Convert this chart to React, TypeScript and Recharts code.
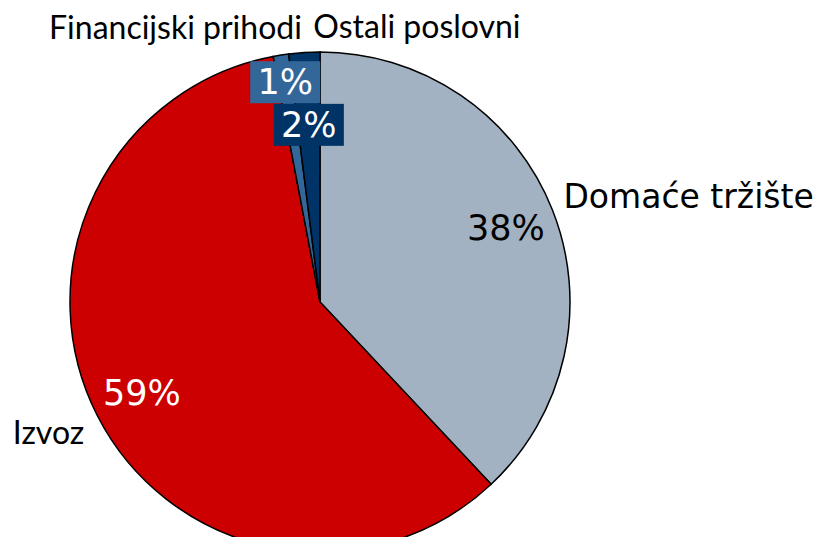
import { PieChart, Pie, Cell } from "recharts";

// share of revenue by source (%)
const categories = ["Domaće tržište", "Izvoz", "Financijski prihodi", "Ostali poslovni"];
const shares = [38, 59, 1, 2];

const colors = ["#A3B2C2", "#CC0000", "#336699", "#003366"];
const pctColors = ["#000000", "#FFFFFF", "#FFFFFF", "#FFFFFF"];
const pctBoxes = [false, false, true, true];
const pctRadius = [0.8, 0.8, 0.89, 0.71];
const nameAnchor = ["start", "end", "end", "start"];
const nameDx = [11, -13, 21, 9];
const nameDy = [-13, 16, -29, -27];
const nameFont = ["DejaVu Sans", "Lato", "Lato", "Lato"];
const nameSize = [33, 32, 32, 32];

const data = categories.map((name, i) => ({ name, value: shares[i] }));

const RADIAN = Math.PI / 180;

// eslint-disable-next-line @typescript-eslint/no-explicit-any
function SliceLabel(props: any) {
  const { cx, cy, midAngle, outerRadius, index, value, name } = props;
  const cos = Math.cos(-midAngle * RADIAN);
  const sin = Math.sin(-midAngle * RADIAN);
  const r = outerRadius * pctRadius[index];
  const px = cx + r * cos;
  const py = cy + r * sin;
  const ex = cx + outerRadius * cos;
  const ey = cy + outerRadius * sin;
  return (
    <g>
      {pctBoxes[index] && (
        <rect x={px - 35} y={py - 21} width={70} height={42} fill={colors[index]} />
      )}
      <text
        x={px}
        y={py}
        fill={pctColors[index]}
        textAnchor="middle"
        dominantBaseline="central"
        fontFamily="DejaVu Sans"
        fontSize={35}
      >
        {value}%
      </text>
      <text
        x={ex + nameDx[index]}
        y={ey + nameDy[index]}
        fill="#000"
        textAnchor={nameAnchor[index]}
        dominantBaseline="central"
        fontFamily={nameFont[index]}
        fontSize={nameSize[index]}
      >
        {name}
      </text>
    </g>
  );
}

export default function App() {
  return (
    <div style={{ margin: -8, width: 828, height: 545, overflow: "hidden", background: "#fff" }}>
      <PieChart width={828} height={545} margin={{ top: 0, right: 0, bottom: 0, left: 0 }}>
        <Pie
          data={data}
          dataKey="value"
          nameKey="name"
          cx={320}
          cy={302}
          outerRadius={250}
          startAngle={90}
          endAngle={-270}
          stroke="#000"
          strokeWidth={1.5}
          labelLine={false}
          label={SliceLabel}
          isAnimationActive={false}
        >
          {data.map((d, i) => (
            <Cell key={d.name} fill={colors[i]} />
          ))}
        </Pie>
      </PieChart>
    </div>
  );
}
